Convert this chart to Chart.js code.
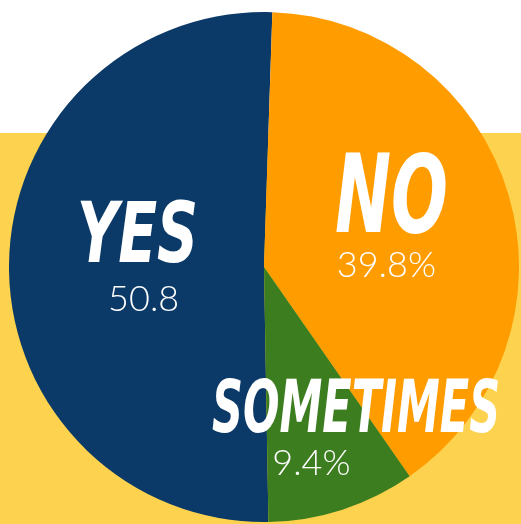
<!DOCTYPE html>
<html>
<head>
<meta charset="utf-8">
<script src="https://cdn.jsdelivr.net/npm/chart.js@4.4.1/dist/chart.umd.min.js"></script>
<style>
  html, body { margin: 0; padding: 0; }
  body {
    width: 521px; height: 524px; overflow: hidden;
    background: linear-gradient(#ffffff 0 133px, #FDD24F 133px 524px);
  }
  #wrap { position: relative; width: 521px; height: 524px; }
</style>
</head>
<body>
<div id="wrap"><canvas id="pieCanvas"></canvas></div>
<script>
// data
const answers = ['YES', 'NO', 'SOMETIMES'];
const shares = [50.8, 39.8, 9.4];
const shareLabels = ['50.8', '39.8%', '9.4%'];
const sliceColors = ['#0B3A68', '#FF9C00', '#3C7E1F'];

// where each word / number sits, as fractions of the pie radius from its centre
// [dx, dy, width, height] for the brush word, [dx, dy] for the number
const wordBoxes = [
  [-0.496, -0.139, 0.475, 0.24],
  [0.500, -0.292, 0.443, 0.31],
  [0.361, 0.543, 1.13, 0.21]
];
const numberSpots = [
  [-0.472, 0.127],
  [0.480, -0.006],
  [0.186, 0.769]
];

const labelPlugin = {
  id: 'sliceLabels',
  afterDatasetsDraw(chart) {
    const ctx = chart.ctx;
    const arc = chart.getDatasetMeta(0).data[0];
    if (!arc) return;
    const cx = arc.x, cy = arc.y, r = arc.outerRadius;
    ctx.save();
    ctx.fillStyle = '#ffffff';

    answers.forEach((word, i) => {
      const [dx, dy, bw, bh] = wordBoxes[i];
      const h = bh * r;
      const size = h / 0.73;
      ctx.font = `italic 900 ${size}px "DejaVu Sans Condensed", "DejaVu Sans", sans-serif`;
      const w = ctx.measureText(word).width;
      ctx.save();
      ctx.translate(cx + dx * r, cy + dy * r + h / 2);
      ctx.scale((bw * r) / w, 1);
      ctx.textAlign = 'center';
      ctx.textBaseline = 'alphabetic';
      ctx.fillText(word, 0, 0);
      ctx.restore();
    });

    ctx.font = '300 36px Lato, "Open Sans", "Liberation Sans", sans-serif';
    ctx.textAlign = 'center';
    ctx.textBaseline = 'middle';
    shareLabels.forEach((txt, i) => {
      const [dx, dy] = numberSpots[i];
      ctx.fillText(txt, cx + dx * r, cy + dy * r);
    });
    ctx.restore();
  }
};

const canvas = document.getElementById('pieCanvas');
const ctx = canvas.getContext('2d');

new Chart(ctx, {
  type: 'pie',
  data: {
    labels: answers,
    datasets: [{
      data: shares,
      backgroundColor: sliceColors,
      borderWidth: 0
    }]
  },
  options: {
    responsive: true,
    maintainAspectRatio: false,
    animation: false,
    rotation: 179,
    layout: { padding: { left: 9, right: 2, top: 12, bottom: 2 } },
    plugins: {
      legend: { display: false },
      tooltip: { enabled: false }
    }
  },
  plugins: [labelPlugin]
});
</script>
</body>
</html>
